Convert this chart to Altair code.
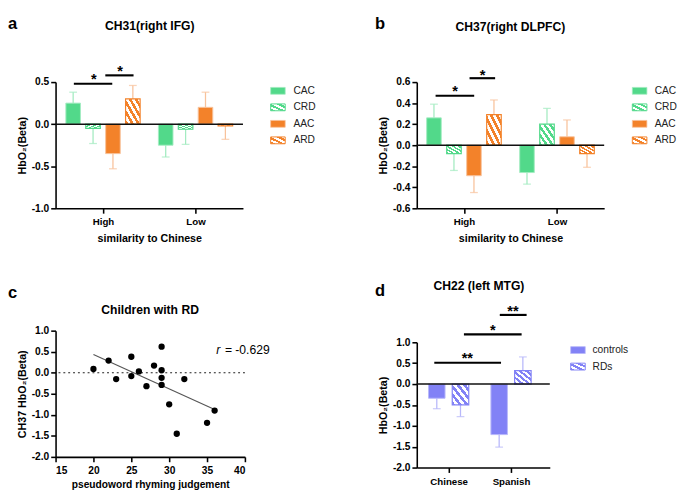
import altair as alt
import pandas as pd

FONT = "Liberation Sans, Arial, DejaVu Sans, sans-serif"
MINUS = "replace(format(datum.value, '.1f'), '\u2212', '-')"

GREEN, ORANGE, PURPLE = "#52d98a", "#f3822a", "#8282f6"
GREEN_L, ORANGE_L, PURPLE_L = "#a3ebc1", "#f8c29b", "#b8b8fa"

# ---------------- data ----------------
ab_groups = ["High", "Low"]
ab_series = ["CAC", "CRD", "AAC", "ARD"]

a_mean_high = [0.25, -0.05, -0.35, 0.30]
a_mean_low = [-0.25, -0.06, 0.20, -0.02]
a_sem_high = [0.13, 0.18, 0.18, 0.16]
a_sem_low = [0.14, 0.18, 0.18, 0.16]

b_mean_high = [0.26, -0.08, -0.29, 0.29]
b_mean_low = [-0.26, 0.20, 0.08, -0.08]
b_sem_high = [0.13, 0.16, 0.16, 0.14]
b_sem_low = [0.11, 0.15, 0.16, 0.13]

d_groups = ["Chinese", "Spanish"]
d_series = ["controls", "RDs"]
d_mean_chinese = [-0.34, -0.50]
d_mean_spanish = [-1.21, 0.32]
d_sem_chinese = [0.25, 0.28]
d_sem_spanish = [0.30, 0.33]

c_x = [20, 22, 23, 25, 25, 26, 27, 28, 29, 29, 29, 29, 30, 31, 32, 35, 36]
c_y = [0.09, 0.29, -0.15, 0.38, -0.08, 0.03, -0.32, 0.17, 0.62, 0.06,
       -0.12, -0.29, -0.75, -1.45, -0.15, -1.19, -0.90]
c_r_label = "= -0.629"
c_r_pos = [36.2, 0.53]

# significance annotations (axis units)
a_sig_x1 = [0.37, 1.05]; a_sig_x2 = [1.20, 1.66]; a_sig_y = [0.48, 0.58]
a_star_x = [0.80, 1.37]; a_star_y = [0.58, 0.68]; a_star = ["*", "*"]
b_sig_x1 = [0.39, 1.12]; b_sig_x2 = [1.22, 1.67]; b_sig_y = [0.47, 0.637]
b_star_x = [0.81, 1.40]; b_star_y = [0.554, 0.70]; b_star = ["*", "*"]
d_sig_x1 = [0.77, 1.245, 1.82]; d_sig_x2 = [1.84, 2.17, 2.25]; d_sig_y = [0.51, 1.19, 1.656]
d_star_x = [1.30, 1.71, 2.03]; d_star_y = [0.72, 1.39, 1.836]; d_star = ["**", "*", "**"]


def hatch(color, n):
    stops = []
    for i in range(n):
        a, b, c = i / n, (i + 0.5) / n, (i + 1) / n
        stops += [{"offset": a, "color": color}, {"offset": b, "color": color},
                  {"offset": b, "color": "white"}, {"offset": c, "color": "white"}]
    return {"gradient": "linear", "x1": 0, "y1": 1, "x2": 1, "y2": 0, "stops": stops}


SWATCH = "M-1,-0.47H1V0.47H-1Z"


def text_layer(txt, x, y, size, weight="bold", align="center"):
    return alt.Chart(pd.DataFrame({"t": [txt]})).mark_text(
        fontSize=size, fontWeight=weight, align=align, baseline="alphabetic", color="black", font=FONT
    ).encode(x=alt.value(x), y=alt.value(y), text="t:N")


def bar_panel(groups, series, means, sems, gpos, offsets, colors, errc, hatched,
              xdom, ydom, yvals, width, height, bar_w, xtitle,
              title, title_xy, letter, letter_xy, sig, stars, leg_x, leg_tx, leg_range):
    rows = []
    for gi, g in enumerate(groups):
        for si, s in enumerate(series):
            m = means[gi][si]
            e = sems[gi][si]
            rows.append(dict(group=g, series=s, x=gpos[gi] + offsets[si], mean=m,
                             end=m + (e if m >= 0 else -e)))
    df = pd.DataFrame(rows)

    expr = "''"
    for p, n in reversed(list(zip(gpos, groups))):
        expr = f"abs(datum.value - {p}) < 0.01 ? '{n}' : ({expr})"
    xaxis = alt.Axis(values=gpos, labelExpr=expr, title=xtitle)
    yaxis = alt.Axis(values=yvals, labelExpr=MINUS, title="HbO\u2082(Beta)")
    xs = alt.Scale(domain=xdom, nice=False, zero=False)
    ys = alt.Scale(domain=ydom, nice=False, zero=False)

    def X(f):
        return alt.X(f, type="quantitative", scale=xs, axis=xaxis)

    def Y(f):
        return alt.Y(f, type="quantitative", scale=ys, axis=yaxis)

    layers = []
    for si, s in enumerate(series):
        sub = df[df.series == s]
        layers.append(alt.Chart(sub).mark_rule(color=errc[si], strokeWidth=1.3)
                      .encode(x=X("x"), y=Y("mean"), y2=alt.Y2("end")))
        layers.append(alt.Chart(sub).mark_tick(orient="horizontal", color=errc[si], size=8, thickness=1.3)
                      .encode(x=X("x"), y=Y("end")))
        if hatched[si]:
            mk = alt.Chart(sub).mark_bar(size=bar_w, fill=hatch(colors[si], 5), stroke=colors[si],
                                         strokeWidth=1.2)
        else:
            mk = alt.Chart(sub).mark_bar(size=bar_w, fill=colors[si], stroke=errc[si], strokeWidth=1)
        layers.append(mk.encode(x=X("x"), y=Y("mean"), y2=alt.datum(0)))
    layers.append(alt.Chart(pd.DataFrame({"z": [0]})).mark_rule(color="#111", strokeWidth=1.6)
                  .encode(y=Y("z")))
    sdf = pd.DataFrame({"x1": sig[0], "x2": sig[1], "y": sig[2]})
    layers.append(alt.Chart(sdf).mark_rule(color="black", strokeWidth=2.2)
                  .encode(x=X("x1"), x2=alt.X2("x2"), y=Y("y")))
    tdf = pd.DataFrame({"x": stars[0], "y": stars[1], "t": stars[2]})
    layers.append(alt.Chart(tdf).mark_text(fontSize=15, fontWeight="bold", baseline="middle", dy=4,
                                          color="black", font=FONT)
                  .encode(x=X("x"), y=Y("y"), text="t:N"))
    layers.append(text_layer(title, title_xy[0], title_xy[1], 12.5))
    layers.append(text_layer(letter, letter_xy[0], letter_xy[1], 17, align="left"))
    main = alt.layer(*layers)

    ldf = pd.DataFrame({"series": series})
    lscale = alt.Scale(type="point", domain=series, range=leg_range, padding=0)
    leg_layers = []
    for si, s in enumerate(series):
        sub = ldf[ldf.series == s]
        if hatched[si]:
            m = alt.Chart(sub).mark_point(shape=SWATCH, size=225, filled=True, fill=hatch(colors[si], 3),
                                          stroke=colors[si], strokeWidth=1, opacity=1)
        else:
            m = alt.Chart(sub).mark_point(shape=SWATCH, size=225, filled=True, fill=colors[si],
                                          stroke=errc[si], strokeWidth=0.8, opacity=1)
        leg_layers.append(m.encode(x=alt.value(leg_x), y=alt.Y("series:N", scale=lscale, axis=None)))
    leg_layers.append(alt.Chart(ldf).mark_text(align="left", baseline="middle", fontSize=10.5,
                                               color="#222", font=FONT)
                      .encode(x=alt.value(leg_tx), y=alt.Y("series:N", scale=lscale, axis=None),
                              text="series:N"))
    legend = alt.layer(*leg_layers)
    return alt.layer(main, legend).resolve_scale(y="independent").properties(width=width, height=height)


offs4 = [-0.645, -0.215, 0.215, 0.645]
col4 = [GREEN, GREEN, ORANGE, ORANGE]
err4 = [GREEN_L, GREEN_L, ORANGE_L, ORANGE_L]
hat4 = [False, True, False, True]

A = bar_panel(ab_groups, ab_series, [a_mean_high, a_mean_low], [a_sem_high, a_sem_low],
              [1, 3], offs4, col4, err4, hat4, [0.08, 3.92], [-1.0, 0.5], [0.5, 0.0, -0.5, -1.0],
              193, 130, 15, "similarity to Chinese",
              "CH31(right IFG)", (97, -53.7), "a", (-49, -55),
              (a_sig_x1, a_sig_x2, a_sig_y), (a_star_x, a_star_y, a_star), 229, 245, [9, 60])

B = bar_panel(ab_groups, ab_series, [b_mean_high, b_mean_low], [b_sem_high, b_sem_low],
              [1, 3], offs4, col4, err4, hat4, [0.09, 3.91], [-0.6, 0.6],
              [0.6, 0.4, 0.2, 0.0, -0.2, -0.4, -0.6],
              193, 130, 15, "similarity to Chinese",
              "CH37(right DLPFC)", (96.3, -52.7), "b", (-43, -55),
              (b_sig_x1, b_sig_x2, b_sig_y), (b_star_x, b_star_y, b_star), 229.5, 245, [9, 60])

D = bar_panel(d_groups, d_series, [d_mean_chinese, d_mean_spanish], [d_sem_chinese, d_sem_spanish],
              [1, 2], [-0.19, 0.19], [PURPLE, PURPLE], [PURPLE_L, PURPLE_L], [False, True],
              [0.567, 2.544], [-2.0, 1.0], [1.0, 0.5, 0.0, -0.5, -1.0, -1.5, -2.0],
              137, 129, 17, None,
              "CH22 (left MTG)", (64, -54), "d", (-43, -47.3),
              (d_sig_x1, d_sig_x2, d_sig_y), (d_star_x, d_star_y, d_star), 166, 181, [8, 25])

# ---------------- panel c ----------------
cdf = pd.DataFrame({"x": c_x, "y": c_y})
cxs = alt.Scale(domain=[15, 40], nice=False, zero=False)
cys = alt.Scale(domain=[-2.0, 1.0], nice=False, zero=False)
cxa = alt.Axis(values=[15, 20, 25, 30, 35, 40], format="d", title="pseudoword rhyming judgement",
               titlePadding=4, titleFontSize=10.5, labelFontSize=10.5)
cya = alt.Axis(values=[1.0, 0.5, 0.0, -0.5, -1.0, -1.5, -2.0], labelExpr=MINUS,
               title="CH37 HbO\u2082(Beta)")


def CX(f):
    return alt.X(f, type="quantitative", scale=cxs, axis=cxa)


def CY(f):
    return alt.Y(f, type="quantitative", scale=cys, axis=cya)


c_zero = alt.Chart(pd.DataFrame({"z": [0]})).mark_rule(color="#222", strokeWidth=1.2, strokeDash=[2, 3]) \
    .encode(y=CY("z"))
c_pts = alt.Chart(cdf).mark_circle(size=42, color="black", opacity=1).encode(x=CX("x"), y=CY("y"))
c_fit = alt.Chart(cdf).transform_regression("x", "y").mark_line(color="#555", strokeWidth=1.2) \
    .encode(x=CX("x"), y=CY("y"))
rdf = pd.DataFrame({"x": [c_r_pos[0]], "y": [c_r_pos[1]], "r": ["r"], "t": [c_r_label]})
c_r1 = alt.Chart(rdf).mark_text(fontSize=12.5, fontStyle="italic", align="left", baseline="middle",
                                color="black", font=FONT).encode(x=CX("x"), y=CY("y"), text="r:N")
c_r2 = alt.Chart(rdf).mark_text(fontSize=12.5, align="left", baseline="middle", dx=9,
                                color="black", font=FONT).encode(x=CX("x"), y=CY("y"), text="t:N")
C = alt.layer(c_zero, c_fit, c_pts, c_r1, c_r2,
              text_layer("Children with RD", 97.3, -16.7, 12.5),
              text_layer("c", -49, -33.3, 17, align="left")).properties(width=195, height=130)

left = alt.vconcat(A, C, spacing=42)
right = alt.vconcat(B, D, spacing=38)

chart = alt.hconcat(left, right, spacing=61).properties(
    padding={"left": 0, "top": 0, "right": 0, "bottom": 0}
).configure_view(stroke=None).configure_axis(
    domainColor="black", domainWidth=1.6, tickColor="black", tickWidth=1.6, tickSize=5,
    labelFont=FONT, labelFontSize=10.5, labelFontWeight="bold", labelColor="black", labelPadding=2,
    titleFont=FONT, titleFontSize=11, titleFontWeight="bold", titleColor="black", grid=False
).configure_axisY(titlePadding=4).configure_axisX(titlePadding=6, labelPadding=4, labelFontSize=10)

chart.save("out.html", embed_options={"renderer": "svg", "actions": False})
